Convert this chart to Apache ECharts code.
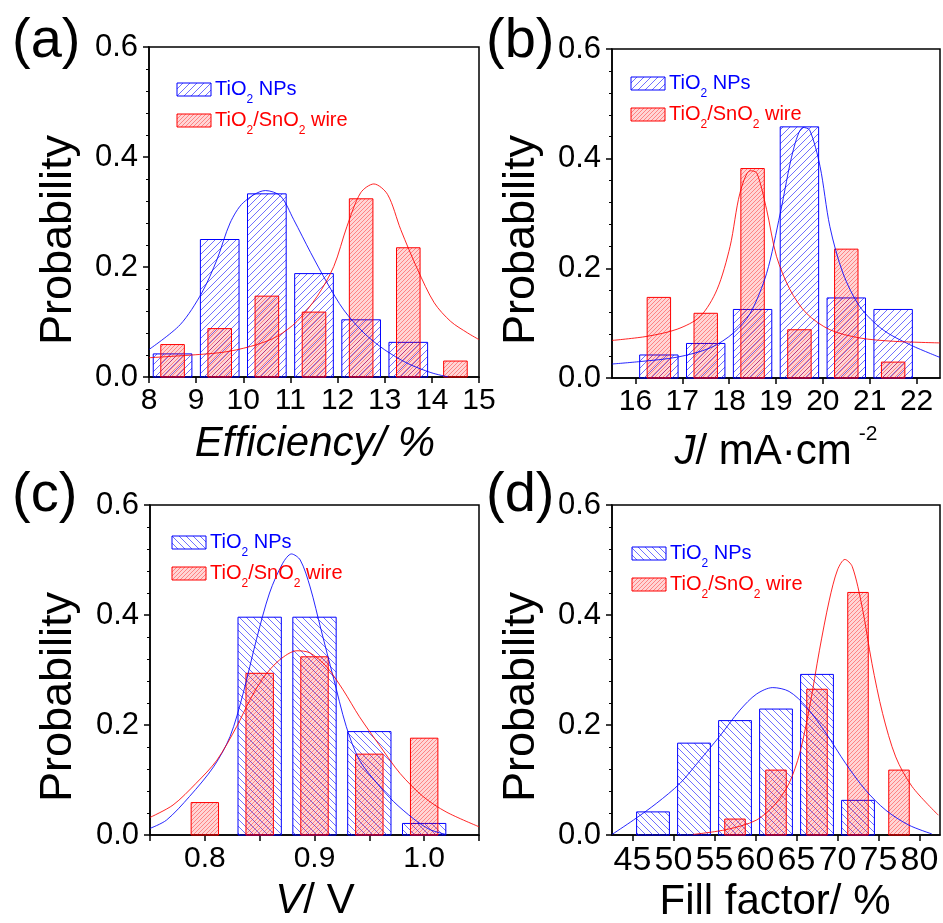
<!DOCTYPE html>
<html>
<head>
<meta charset="utf-8">
<script src="https://cdn.jsdelivr.net/npm/echarts@6/dist/echarts.min.js"></script>
<style>
  html, body { margin: 0; padding: 0; background: #fff; }
  #chart { width: 943px; height: 923px; }
</style>
</head>
<body>
<div id="chart"></div>
<script>
// (a) efficiency histogram
const effBins = [8.5, 9.5, 10.5, 11.5, 12.5, 13.5, 14.5];
const effNPs = [0.042, 0.250, 0.333, 0.188, 0.104, 0.063, 0];
const effWire = [0.059, 0.088, 0.147, 0.118, 0.324, 0.235, 0.029];
const effFitNPs = [[8.0, 0.05], [8.66, 0.095], [9.12, 0.153], [9.44, 0.213], [9.72, 0.28], [10.0, 0.317], [10.47, 0.339], [10.79, 0.329], [11.07, 0.286], [11.43, 0.226], [11.78, 0.171], [12.13, 0.122], [12.56, 0.08], [12.99, 0.05], [13.48, 0.025], [13.98, 0.008], [14.35, 0.0]];
const effFitWire = [[8.0, 0.035], [9.23, 0.042], [9.72, 0.047], [10.29, 0.059], [10.72, 0.074], [11.14, 0.101], [11.57, 0.147], [11.92, 0.201], [12.2, 0.274], [12.49, 0.335], [12.77, 0.351], [13.06, 0.332], [13.34, 0.268], [13.7, 0.195], [14.05, 0.135], [14.4, 0.101], [14.76, 0.08], [15.0, 0.068]];
const effTicks = [8, 9, 10, 11, 12, 13, 14, 15];

// (b) current density histogram
const jBins = [16.5, 17.5, 18.5, 19.5, 20.5, 21.5];
const jNPs = [0.042, 0.063, 0.125, 0.458, 0.146, 0.125];
const jWire = [0.147, 0.118, 0.382, 0.088, 0.235, 0.029];
const jFitNPs = [[15.5, 0.0255], [16.1, 0.03], [16.89, 0.038], [17.6, 0.055], [18.09, 0.082], [18.45, 0.118], [18.8, 0.191], [19.09, 0.30], [19.37, 0.416], [19.58, 0.457], [19.72, 0.452], [19.94, 0.386], [20.15, 0.276], [20.43, 0.191], [20.79, 0.13], [21.28, 0.088], [21.85, 0.061], [22.5, 0.0375]];
const jFitWire = [[15.5, 0.0685], [16.25, 0.076], [16.89, 0.089], [17.38, 0.112], [17.74, 0.161], [18.02, 0.24], [18.23, 0.337], [18.45, 0.378], [18.59, 0.374], [18.8, 0.307], [19.01, 0.222], [19.3, 0.161], [19.65, 0.118], [20.15, 0.088], [20.79, 0.073], [21.5, 0.067], [22.5, 0.064]];
const jTicks = [16, 17, 18, 19, 20, 21, 22];

// (c) voltage histogram
const vBins = [0.80, 0.85, 0.90, 0.95, 1.00];
const vNPs = [0, 0.396, 0.396, 0.188, 0.021];
const vWire = [0.059, 0.294, 0.324, 0.147, 0.176];
const vFitNPs = [[0.75, 0.012], [0.765, 0.027], [0.786, 0.07], [0.808, 0.124], [0.823, 0.179], [0.835, 0.258], [0.847, 0.355], [0.859, 0.44], [0.871, 0.494], [0.879, 0.511], [0.887, 0.5], [0.896, 0.451], [0.906, 0.373], [0.917, 0.288], [0.929, 0.197], [0.941, 0.136], [0.957, 0.094], [0.972, 0.061], [0.99, 0.03], [1.005, 0.01], [1.02, 0.001]];
const vFitWire = [[0.75, 0.032], [0.771, 0.0545], [0.792, 0.094], [0.811, 0.136], [0.829, 0.197], [0.841, 0.245], [0.853, 0.285], [0.868, 0.318], [0.884, 0.335], [0.896, 0.331], [0.911, 0.306], [0.926, 0.264], [0.941, 0.215], [0.96, 0.161], [0.978, 0.112], [0.999, 0.07], [1.02, 0.042], [1.05, 0.015]];
const vTicks = [0.75, 0.80, 0.85, 0.90, 0.95, 1.00, 1.05];
const vLabels = [0.8, 0.9, 1.0];

// (d) fill factor histogram
const ffBins = [47.5, 52.5, 57.5, 62.5, 67.5, 72.5, 77.5];
const ffNPs = [0.042, 0.167, 0.208, 0.229, 0.292, 0.063, 0];
const ffWire = [0, 0, 0.029, 0.118, 0.265, 0.441, 0.118];
const ffFitNPs = [[42.5, 0.001], [45.1, 0.027], [47.96, 0.058], [50.8, 0.094], [53.2, 0.136], [55.6, 0.179], [58.1, 0.227], [60.1, 0.256], [62.1, 0.268], [64.1, 0.261], [66.2, 0.233], [68.6, 0.185], [71.0, 0.13], [73.4, 0.082], [75.9, 0.045], [78.7, 0.018], [81.5, 0.002]];
const ffFitWire = [[52.4, 0.001], [56.5, 0.01], [60.1, 0.027], [62.5, 0.058], [64.1, 0.094], [65.4, 0.149], [66.6, 0.233], [67.8, 0.336], [69.0, 0.427], [70.0, 0.482], [70.9, 0.501], [71.8, 0.488], [73.0, 0.415], [74.2, 0.312], [75.5, 0.221], [77.1, 0.142], [79.1, 0.088], [82.3, 0.036]];
const ffTicks = [45, 50, 55, 60, 65, 70, 75, 80];

const probTicks = [0, 0.2, 0.4, 0.6];

const FONT = '"Liberation Sans", Arial, sans-serif';
const BLUE = '#0000ff';
const RED = '#ff0000';

// hatch tiles built pixel by pixel; bg is a faint tint of the same colour
function hatch(size, rgb, lineAlpha, bgAlpha, forward) {
    const c = document.createElement('canvas');
    c.width = c.height = size;
    const g = c.getContext('2d');
    const img = g.createImageData(size, size);
    for (let y = 0; y < size; y++) {
        for (let x = 0; x < size; x++) {
            const on = forward ? (x + y) % size === size - 1 : (x - y + size) % size === 0;
            const k = (y * size + x) * 4;
            img.data[k] = rgb[0];
            img.data[k + 1] = rgb[1];
            img.data[k + 2] = rgb[2];
            img.data[k + 3] = on ? lineAlpha : bgAlpha;
        }
    }
    g.putImageData(img, 0, 0);
    return {image: c, repeat: 'repeat'};
}
const blueFwd = hatch(7, [40, 40, 255], 170, 0, true);
const blueBack = hatch(7, [40, 40, 255], 170, 0, false);
const redFwd = hatch(4, [255, 0, 0], 125, 42, true);

const grids = [
    {left: 149, top: 47, width: 330, height: 330},
    {left: 612, top: 49, width: 328, height: 329},
    {left: 150, top: 505, width: 329, height: 330},
    {left: 612, top: 505, width: 328, height: 330}
].map(g => Object.assign({show: true, borderColor: '#000', borderWidth: 1.5, backgroundColor: 'transparent'}, g));

function xAxis(idx, min, max, ticks, labels, size, fmt) {
    return {
        type: 'value', gridIndex: idx, min, max,
        axisLine: {show: true, lineStyle: {color: '#000', width: 1.5}},
        axisTick: {show: true, length: 6, lineStyle: {color: '#000', width: 1.5}, customValues: ticks},
        axisLabel: {
            customValues: labels, color: '#000', fontSize: size, fontFamily: FONT, margin: 9,
            formatter: fmt || (v => String(v))
        },
        splitLine: {show: false}
    };
}
function yAxis(idx) {
    return {
        type: 'value', gridIndex: idx, min: 0, max: 0.6, interval: 0.2,
        axisLine: {show: true, lineStyle: {color: '#000', width: 1.5}},
        axisTick: {show: true, length: 6, lineStyle: {color: '#000', width: 1.5}},
        minorTick: {show: true, splitNumber: 5, length: 3, lineStyle: {color: '#000', width: 1}},
        axisLabel: {
            customValues: probTicks, color: '#000', fontSize: 31, fontFamily: FONT, margin: 11,
            formatter: v => v.toFixed(1)
        },
        splitLine: {show: false}
    };
}

function bars(idx, bins, vals, width, stroke, fill, z) {
    return {
        type: 'custom', xAxisIndex: idx, yAxisIndex: idx, z,
        data: bins.map((b, i) => [b, vals[i]]).filter(d => d[1] > 0),
        renderItem(params, api) {
            const x = api.value(0), y = api.value(1);
            const p0 = api.coord([x - width / 2, 0]);
            const p1 = api.coord([x + width / 2, y]);
            return {
                type: 'rect',
                shape: {x: p0[0], y: p1[1], width: p1[0] - p0[0], height: p0[1] - p1[1]},
                style: {fill, stroke, lineWidth: 1}
            };
        }
    };
}
function fit(idx, pts, color) {
    return {
        type: 'line', xAxisIndex: idx, yAxisIndex: idx, z: 5,
        data: pts, smooth: 0.3, showSymbol: false, silent: true,
        lineStyle: {color, width: 1, opacity: 0.85}
    };
}

// legend block drawn as graphic: swatch + rich text with subscripts
function legendEntry(x, y, w, h, fill, stroke, text) {
    return [
        {type: 'rect', shape: {x, y, width: w, height: h}, style: {fill, stroke, lineWidth: 1}, z: 10},
        {
            type: 'text', x: x + w + 4, y: y + h / 2, z: 10,
            style: {
                text, verticalAlign: 'middle', align: 'left',
                rich: {
                    n: {fontSize: 20, fontFamily: FONT, fill: stroke},
                    s: {fontSize: 12, fontFamily: FONT, fill: stroke, padding: [20, 0, 0, 0]}
                }
            }
        }
    ];
}
function legend(x, y, blueFill) {
    return [
        ...legendEntry(x, y, 34, 13, blueFill, BLUE, '{n|TiO}{s|2}{n| NPs}'),
        ...legendEntry(x, y + 31, 34, 13, redFwd, RED, '{n|TiO}{s|2}{n|/SnO}{s|2}{n| wire}')
    ];
}
function label(text, x, y) {
    return {type: 'text', x, y, z: 10, style: {text, fontSize: 56, fontFamily: FONT, fill: '#000', align: 'left', verticalAlign: 'middle'}};
}
function prob(x, y) {
    return {type: 'text', x, y, rotation: Math.PI / 2, z: 10,
        style: {text: 'Probability', fontSize: 45, fontFamily: FONT, fill: '#000', align: 'center', verticalAlign: 'middle'}};
}
function xname(text, x, y, rich) {
    return {type: 'text', x, y, z: 10,
        style: {text, align: 'center', verticalAlign: 'middle', rich}};
}
const nameRich = {
    i: {fontSize: 42, fontFamily: FONT, fontStyle: 'italic', fill: '#000'},
    n: {fontSize: 42, fontFamily: FONT, fill: '#000'},
    p: {fontSize: 21, fontFamily: FONT, fill: '#000', padding: [0, 0, 36, 7]}
};

const chart = echarts.init(document.getElementById('chart'), null, {renderer: 'canvas'});
chart.setOption({
    animation: false,
    backgroundColor: '#fff',
    grid: grids,
    xAxis: [
        xAxis(0, 8, 15, effTicks, effTicks, 30),
        xAxis(1, 15.5, 22.5, jTicks, jTicks, 30),
        xAxis(2, 0.75, 1.05, vTicks, vLabels, 30, v => v.toFixed(1)),
        xAxis(3, 42.5, 82.5, ffTicks, ffTicks, 34)
    ],
    yAxis: [yAxis(0), yAxis(1), yAxis(2), yAxis(3)],
    series: [
        bars(0, effBins, effNPs, 0.82, BLUE, blueFwd, 2),
        bars(0, effBins, effWire, 0.5, RED, redFwd, 3),
        fit(0, effFitNPs, BLUE),
        fit(0, effFitWire, RED),
        bars(1, jBins, jNPs, 0.82, BLUE, blueFwd, 2),
        bars(1, jBins, jWire, 0.5, RED, redFwd, 3),
        fit(1, jFitNPs, BLUE),
        fit(1, jFitWire, RED),
        bars(2, vBins, vNPs, 0.0395, BLUE, blueBack, 2),
        bars(2, vBins, vWire, 0.025, RED, redFwd, 3),
        fit(2, vFitNPs, BLUE),
        fit(2, vFitWire, RED),
        bars(3, ffBins, ffNPs, 4.0, BLUE, blueBack, 2),
        bars(3, ffBins, ffWire, 2.5, RED, redFwd, 3),
        fit(3, ffFitNPs, BLUE),
        fit(3, ffFitWire, RED)
    ],
    graphic: [
        label('(a)', 12, 42), label('(b)', 486, 42), label('(c)', 12, 496), label('(d)', 486, 496),
        prob(59, 240), prob(522, 240), prob(59, 697), prob(522, 697),
        ...legend(177, 83, blueFwd),
        ...legend(631, 77, blueFwd),
        ...legend(172, 536, blueBack),
        ...legend(632, 547, blueBack),
        xname('{i|Efficiency/ %}', 315, 444, nameRich),
        xname('{i|J}{n|/ mA·cm}{p|-2}', 776, 452, nameRich),
        xname('{i|V}{n|/ V}', 315, 901, nameRich),
        xname('{n|Fill factor/ %}', 775, 902, nameRich)
    ]
});
</script>
</body>
</html>
